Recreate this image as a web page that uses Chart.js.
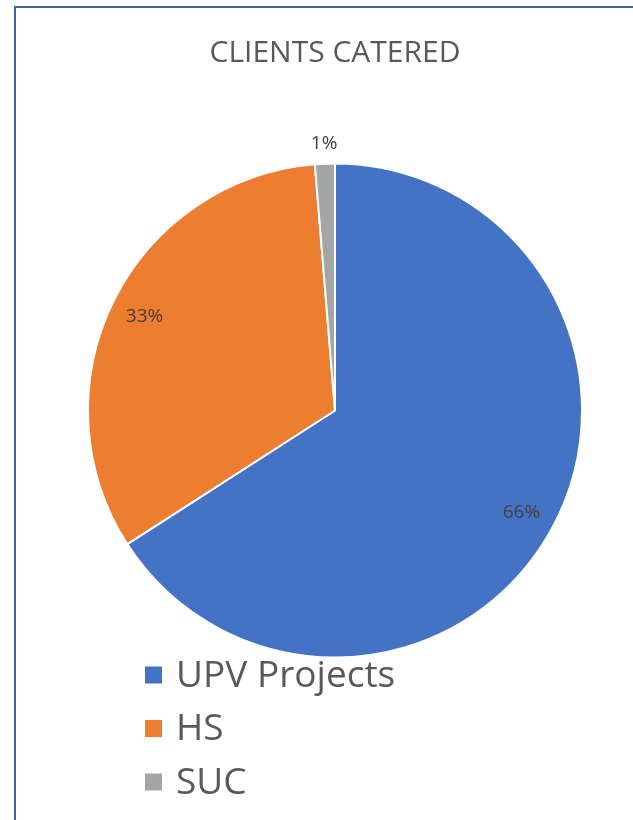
<!DOCTYPE html>
<html>
<head>
<meta charset="utf-8">
<script src="https://cdn.jsdelivr.net/npm/chart.js@4"></script>
<style>
  html, body { margin: 0; padding: 0; background: #fff; }
  #wrap { position: relative; width: 633px; height: 820px; overflow: hidden; }
  #frame { position: absolute; left: 14px; top: 6px; width: 700px; height: 900px; border: 2px solid #3f62a4; box-sizing: border-box; }
  canvas { position: absolute; left: 0; top: 0; }
</style>
</head>
<body>
<div id="wrap">
  <div id="frame"></div>
  <canvas id="pie" width="633" height="820"></canvas>
</div>
<script>
const categories = ['UPV Projects', 'HS', 'SUC'];
const shares = [65.9, 32.8, 1.3];
const colors = ['#4472C4', '#ED7D31', '#A5A5A5'];

const txt = '#595959';
const font = '"Open Sans", "Noto Sans", sans-serif';

// percentage labels + big stacked legend
const pieLabels = {
  id: 'pieLabels',
  afterDatasetsDraw(chart) {
    const ctx = chart.ctx;
    const meta = chart.getDatasetMeta(0);
    const total = shares.reduce((a, b) => a + b, 0);
    ctx.save();
    ctx.font = '19px ' + font;
    ctx.fillStyle = '#404040';
    ctx.textAlign = 'center';
    ctx.textBaseline = 'middle';
    meta.data.forEach((arc, i) => {
      const pct = shares[i] / total * 100;
      const mid = (arc.startAngle + arc.endAngle) / 2;
      const r = pct < 5 ? arc.outerRadius + 20 : arc.outerRadius * 0.86;
      const x = arc.x + Math.cos(mid) * r;
      const y = arc.y + Math.sin(mid) * r;
      ctx.fillText(Math.round(pct) + '%', x, y);
    });

    const items = chart.options.plugins.legend.labels.generateLabels(chart);
    ctx.textAlign = 'left';
    ctx.font = '37px ' + font;
    items.forEach((it, i) => {
      const cy = 675 + i * 53.5;
      ctx.fillStyle = it.fillStyle;
      ctx.fillRect(145, cy - 8.5, 17, 17);
      ctx.fillStyle = txt;
      ctx.fillText(it.text, 176, cy + 1);
    });
    ctx.restore();
  }
};

new Chart(document.getElementById('pie'), {
  type: 'pie',
  data: {
    labels: categories,
    datasets: [{
      data: shares,
      backgroundColor: colors,
      borderColor: '#ffffff',
      borderWidth: 2
    }]
  },
  options: {
    responsive: false,
    animation: false,
    layout: { padding: { left: 87, right: 50, top: 0, bottom: 161 } },
    plugins: {
      legend: { display: false },
      tooltip: { enabled: false },
      title: {
        display: true,
        text: 'CLIENTS CATERED',
        color: txt,
        font: { family: font, size: 30, weight: 'normal' },
        padding: { top: 35, bottom: 91 }
      }
    }
  },
  plugins: [pieLabels]
});
</script>
</body>
</html>
